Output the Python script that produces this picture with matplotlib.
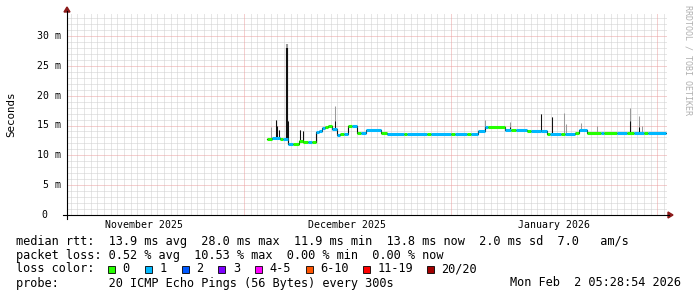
import numpy as np
import matplotlib
matplotlib.use("Agg")
import matplotlib.pyplot as plt
from matplotlib.lines import Line2D
from matplotlib.patches import Polygon, Rectangle

W, H = 697, 297
MONO = "DejaVu Sans Mono"

# ---------------- data (x = days since 2025-12-01, y = ms) ----------------
seg_start = [3.45, 4.2, 5.4, 5.9, 6.6, 7.4, 8.25, 8.85, 9.6, 10.2,
             10.75, 11.3, 11.65, 12.2, 12.6, 13.15, 13.95, 14.4, 15.0, 15.6,
             16.2, 16.95, 17.5, 18.3, 20.55, 21.45, 24.0, 24.5, 27.5, 28.0,
             31.0, 31.6, 33.5, 34.0, 35.1, 36.15, 36.6, 39.15, 40.0, 40.8,
             42.45, 43.0, 44.55, 45.45, 45.9, 47.5, 48.2, 49.65, 50.25, 51.45,
             53.5, 54.0, 56.0, 57.5, 58.5, 60.0, 60.6]
seg_ms = [12.8, 12.9, 12.8, 12.8, 11.9, 11.9, 12.4, 12.2, 12.2, 12.2,
          13.9, 14.0, 14.6, 14.7, 15.0, 14.4, 13.4, 13.6, 13.6, 15.0,
          15.0, 13.7, 13.7, 14.2, 13.7, 13.5, 13.5, 13.5, 13.5, 13.5,
          13.5, 13.5, 13.5, 13.5, 14.1, 14.8, 14.8, 14.2, 14.2, 14.2,
          14.0, 14.0, 14.1, 13.6, 13.6, 13.6, 13.6, 13.8, 14.2, 13.8,
          13.8, 13.8, 13.8, 13.8, 13.8, 13.8, 13.8]
seg_loss = [0, 1, 0, 1, 1, 0, 0, 0, 1, 0,
            1, 1, 1, 0, 0, 1, 1, 0, 1, 0,
            1, 0, 1, 1, 0, 1, 0, 1, 0, 1,
            0, 1, 0, 1, 1, 1, 0, 1, 0, 1,
            0, 1, 1, 0, 1, 0, 1, 0, 1, 0,
            1, 0, 1, 0, 1, 0, 1]
data_end = 63.3

spike_day = [4.05, 4.8, 5.0, 5.25, 6.4, 6.65, 8.4, 8.8, 13.7, 36.15,
             39.9, 44.55, 46.2, 48.0, 48.3, 50.55, 53.0, 57.9, 59.25, 59.7]
spike_top = [14.7, 15.9, 15.0, 14.2, 28.6, 15.7, 14.3, 14.0, 18.3, 15.9,
             15.6, 16.9, 16.5, 17.1, 15.2, 15.4, 14.9, 18.0, 16.6, 14.9]
spike_dark = [0, 15.9, 15.0, 14.2, 28.0, 15.7, 14.2, 14.0, 15.8, 0,
              14.8, 16.9, 16.5, 0, 0, 0, 0, 15.8, 14.8, 0]

loss_labels = ["0", "1", "2", "3", "4-5", "6-10", "11-19", "20/20"]
loss_colors = ["#26ff00", "#00b8ff", "#0059ff", "#7e00ff",
               "#ff00ff", "#ff5500", "#ff0000", "#a10000"]

month_starts = [-30, 0, 31, 62]
month_names = ["November 2025", "December 2025", "January 2026"]

y_ticks = [0, 5, 10, 15, 20, 25, 30]

stats_rtt = "median rtt:  13.9 ms avg  28.0 ms max  11.9 ms min  13.8 ms now  2.0 ms sd  7.0   am/s"
stats_loss = "packet loss: 0.52 % avg  10.53 % max  0.00 % min  0.00 % now"
probe_txt = "probe:       20 ICMP Echo Pings (56 Bytes) every 300s"
stamp_txt = "Mon Feb  2 05:28:54 2026"

# ---------------- layout ----------------
def fx(x):
    return x / W

def fy(y):
    return 1 - y / H

PX_DAY = 600 / 90.0
PX_MS = (215 - 36) / 30.0
xmin = (67 - 244) / PX_DAY
xmax = (667 - 244) / PX_DAY
ymax = (215 - 14) / PX_MS

fig = plt.figure(figsize=(W / 100, H / 100), dpi=100)
fig.patch.set_facecolor("white")
ax = fig.add_axes([fx(67), fy(215), 600 / W, 201 / H])
ax.set_xlim(xmin, xmax)
ax.set_ylim(0, ymax)
for s in ax.spines.values():
    s.set_visible(False)
ax.set_xticks([])
ax.set_yticks([])

# grid
dot = (0, (1, 1))
gkw = dict(lw=0.72, ls=dot, zorder=1)
for d in range(int(np.ceil(xmin)), int(xmax) + 1):
    if d in month_starts:
        continue
    ax.axvline(d, color="#cfcfcf", **gkw)
for v in range(1, int(ymax) + 1):
    if v % 5 == 0:
        continue
    ax.axhline(v, color="#cfcfcf", **gkw)
for v in y_ticks[1:]:
    ax.axhline(v, color="#eaa0a0", **gkw)
for d in month_starts:
    if xmin < d < xmax:
        ax.axvline(d, color="#eaa0a0", **gkw)

# median + smoke
seg_end = seg_start[1:] + [data_end]
def median_at(d):
    i = np.searchsorted(seg_start, d, side="right") - 1
    return seg_ms[max(i, 0)]

for d, top, dark in zip(spike_day, spike_top, spike_dark):
    base = median_at(d)
    lw = 1.5 if top > 25 else 0.75
    ax.vlines(d, base, top, color="#9a9a9a", lw=lw, zorder=2)
    if dark:
        ax.vlines(d, base, dark, color="#111111", lw=lw, zorder=3)

ax.step(seg_start + [data_end], seg_ms + [seg_ms[-1]], where="post",
        color="#111111", lw=0.8, zorder=3)
for a, b, m, l in zip(seg_start, seg_end, seg_ms, seg_loss):
    ax.add_line(Line2D([a, b], [m, m], color=loss_colors[l], lw=2.2,
                       solid_capstyle="butt", zorder=4))

# axis lines and arrows
ax_col = "#000000"
fig.add_artist(Line2D([fx(67), fx(67)], [fy(219), fy(11)], color=ax_col, lw=0.8))
fig.add_artist(Line2D([fx(63), fx(669)], [fy(215), fy(215)], color=ax_col, lw=0.8))
arrow_col = "#8b1a1a"
fig.add_artist(Polygon([[fx(64), fy(12)], [fx(70), fy(12)], [fx(67), fy(7)]],
                       closed=True, color=arrow_col, transform=fig.transFigure))
fig.add_artist(Polygon([[fx(668), fy(212)], [fx(668), fy(218)], [fx(673), fy(215)]],
                       closed=True, color=arrow_col, transform=fig.transFigure))

# tick labels
for v in y_ticks:
    lab = f"{v} m" if v else "0"
    xr = 60.5 if v else 47
    fig.text(fx(xr), fy(215 - v * PX_MS), lab, ha="right", va="center",
             family=MONO, fontsize=7.1)
for i, name in enumerate(month_names):
    c = (month_starts[i] + month_starts[i + 1]) / 2.0
    xp = 244 + c * PX_DAY
    fig.text(fx(xp), fy(225), name, ha="center", va="center",
             family=MONO, fontsize=7.1)

fig.text(fx(11), fy(114), "Seconds", rotation=90, ha="center", va="center",
         family=MONO, fontsize=7.8)
fig.text(fx(688), fy(5), "RRDTOOL / TOBI OETIKER", rotation=270, ha="center",
         va="top", family=MONO, fontsize=6.0, color="#b0b0b0")

# legend block
LF = 8.55
fig.text(fx(16), fy(241), stats_rtt, ha="left", va="center", family=MONO, fontsize=LF)
fig.text(fx(16), fy(255), stats_loss, ha="left", va="center", family=MONO, fontsize=LF)
fig.text(fx(16), fy(269), "loss color:", ha="left", va="center", family=MONO, fontsize=LF)
fig.text(fx(16), fy(283), probe_txt, ha="left", va="center", family=MONO, fontsize=LF)
fig.text(fx(681), fy(283), stamp_txt, ha="right", va="center", family=MONO, fontsize=LF)

xb = 108.0
for lab, col in zip(loss_labels, loss_colors):
    fig.add_artist(Rectangle((fx(xb), fy(273)), 7 / W, 7 / H, transform=fig.transFigure,
                             facecolor=col, edgecolor="black", lw=0.6))
    fig.text(fx(xb + 14.5), fy(269), lab, ha="left", va="center", family=MONO, fontsize=LF)
    xb = xb + 14.5 + len(lab) * 6.8 + 15.5

fig.savefig("out.png", dpi=100, facecolor="white")
